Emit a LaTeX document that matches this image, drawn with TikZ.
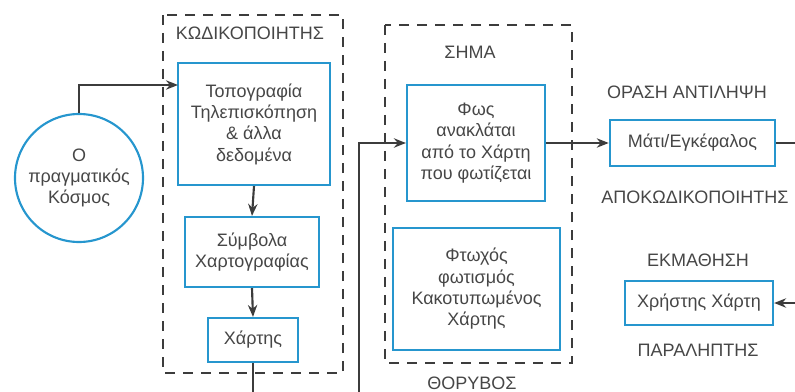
\documentclass[tikz,border=0pt]{standalone}
\usepackage{fontspec}
\setmainfont{Liberation Sans}
\usetikzlibrary{arrows.meta}
\definecolor{mapblue}{RGB}{38,150,206}
\definecolor{linegray}{RGB}{60,60,60}
\definecolor{textgray}{RGB}{70,70,70}

\begin{document}
\begin{tikzpicture}[x=0.75pt,y=-0.75pt,font=\fontsize{13.5}{16}\selectfont,text=textgray]
   \tikzset{box/.style 2 args={draw=mapblue,line width=1.6pt,inner sep=0pt,align=center,minimum width=#1,minimum height=#2}};
   \tikzset{frame/.style={draw=linegray,line width=1.6pt,dash pattern=on 7.5pt off 6pt}};
   \tikzset{link/.style={draw=linegray,line width=1.6pt,-{Stealth[length=9pt,width=7pt]}}};
   \tikzset{tag/.style={inner sep=0pt}};

\useasboundingbox (0,0) rectangle (795,392);
\clip (0,0) rectangle (795,392);

\draw[frame] (163,15) rectangle (343,373);
\draw[frame] (385,25) rectangle (572,363);

\node[draw=mapblue,line width=1.6pt,circle,minimum size=96pt,inner sep=0pt,align=center] (world) at (79,178) {Ο\\πραγματικός\\Κόσμος};

\node[box={114pt}{91.5pt}] (topo) at (254,124) {Τοπογραφία\\Τηλεπισκόπηση\\\& άλλα\\δεδομένα};
\node[box={100.5pt}{52.5pt}] (symb) at (252,252) {Σύμβολα\\Χαρτογραφίας};
\node[box={67.5pt}{33pt}] (chart) at (253,340) {Χάρτης};

\node[box={103.5pt}{87pt}] (light) at (476,143) {Φως\\ανακλάται\\από το Χάρτη\\που φωτίζεται};
\node[box={125pt}{91.5pt}] (noise) at (476.5,289) {Φτωχός\\φωτισμός\\Κακοτυπωμένος\\Χάρτης};

\node[box={124pt}{35pt}] (eye) at (692.5,143) {Μάτι/Εγκέφαλος};
\node[box={111pt}{33pt}] (user) at (699,303) {Χρήστης Χάρτη};

%labels-----------------
\node[tag] (enc) at (250,33) {ΚΩΔΙΚΟΠΟΙΗΤΗΣ};
\node[tag] (sig) at (470,52) {ΣΗΜΑ};
\node[tag] (noi) at (472,383) {ΘΟΡΥΒΟΣ};
\node[tag] (vis) at (687,92) {ΟΡΑΣΗ ΑΝΤΙΛΗΨΗ};
\node[tag] (dec) at (695,197) {ΑΠΟΚΩΔΙΚΟΠΟΙΗΤΗΣ};
\node[tag] (lea) at (698,260) {ΕΚΜΑΘΗΣΗ};
\node[tag] (rec) at (698,350) {ΠΑΡΑΛΗΠΤΗΣ};

%E-----------------------
\coordinate (topoin) at (178,85);
\coordinate (low) at (359,410);
\coordinate (turn) at (815,220);

\draw[link] (world.north) |- (topoin);
\foreach \a/\b in {topo/symb,symb/chart}{
    \draw[link] (\a.south) -- (\b.north);
}
\draw[link] (chart.south) |- (low) |- (light.west);
\draw[link] (light.east) -- (eye.west);
\draw[link] (eye.east) -| (turn) |- (user.east);

\end{tikzpicture}
\end{document}
